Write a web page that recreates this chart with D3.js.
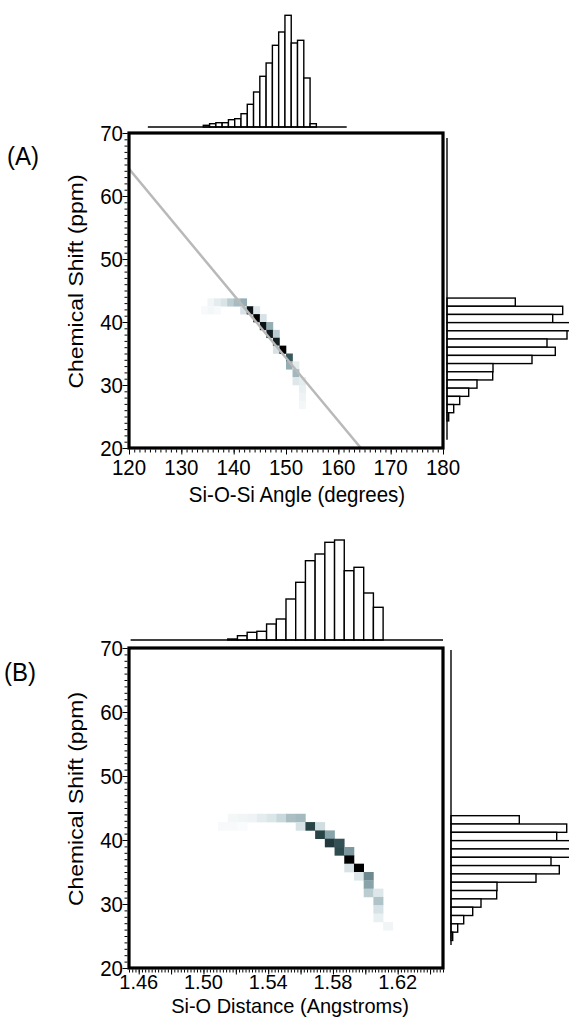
<!DOCTYPE html>
<html>
<head>
<meta charset="utf-8">
<script src="https://cdn.jsdelivr.net/npm/d3@7"></script>
<style>
  body { margin: 0; background: #fff; }
  text { font-family: "Liberation Sans", Arial, Helvetica, sans-serif; fill: #000; }
</style>
</head>
<body>
<svg id="chart" width="569" height="1019"></svg>
<script>
// tick labels
var angleTicks = [120, 130, 140, 150, 160, 170, 180];
var distanceTicks = [1.46, 1.50, 1.54, 1.58, 1.62];
var shiftTicks = [20, 30, 40, 50, 60, 70];

// 2D histogram cells: [x bin start, shift bin start, relative density]
var angleCells = [
  [135, 42.5, .05], [136.25, 42.5, .1], [137.5, 42.5, .14], [138.75, 42.5, .25], [140, 42.5, .33], [141.25, 42.5, .4],
  [133.75, 41.25, .03], [135, 41.25, .04], [136.25, 41.25, .03], [141.25, 41.25, .15], [142.5, 41.25, .95], [143.75, 41.25, .12],
  [143.75, 40, 1], [145, 40, .15],
  [145, 38.75, .95], [146.25, 38.75, .4],
  [146.25, 37.5, .92], [147.5, 37.5, .25],
  [147.5, 36.25, .92],
  [147.5, 35, .15], [148.75, 35, 1],
  [150, 33.75, .75],
  [150, 32.5, .4], [151.25, 32.5, .1],
  [151.25, 31.25, .35],
  [151.25, 30, .12], [152.5, 30, .1],
  [152.5, 28.75, .08],
  [152.5, 27.5, .06],
  [152.5, 26.25, .04]
];
var distanceCells = [
  [1.515, 42.8, .04], [1.521, 42.8, .05], [1.527, 42.8, .06], [1.533, 42.8, .1], [1.539, 42.8, .13], [1.545, 42.8, .2], [1.551, 42.8, .32], [1.557, 42.8, .34],
  [1.509, 41.5, .03], [1.515, 41.5, .03], [1.521, 41.5, .02], [1.557, 41.5, .15], [1.563, 41.5, .82], [1.569, 41.5, .17],
  [1.569, 40.2, .82], [1.575, 40.2, .45],
  [1.575, 38.9, .85], [1.581, 38.9, .78],
  [1.581, 37.6, .8], [1.587, 37.6, .5],
  [1.587, 36.3, 1],
  [1.587, 35.0, .15], [1.593, 35.0, 1],
  [1.593, 33.7, .12], [1.599, 33.7, .55],
  [1.599, 32.4, .45],
  [1.599, 31.1, .25], [1.605, 31.1, .12],
  [1.605, 29.8, .3],
  [1.605, 28.5, .15],
  [1.605, 27.2, .08],
  [1.611, 25.9, .05]
];

// marginal histograms
var angleBins = [134.2, 135.4, 136.6, 137.8, 139.0, 140.2, 141.4, 142.6, 143.8, 145.0, 146.2, 147.4, 148.6, 149.8, 151.0, 152.2, 153.4, 154.6];
var angleCounts = [17, 33, 43, 43, 73, 83, 133, 227, 350, 507, 640, 817, 950, 1117, 840, 867, 490, 33];
var distanceBins = [1.515, 1.521, 1.527, 1.533, 1.539, 1.545, 1.551, 1.557, 1.563, 1.569, 1.575, 1.581, 1.587, 1.593, 1.599, 1.605];
var distanceCounts = [10, 43, 77, 87, 160, 210, 410, 577, 793, 860, 977, 1000, 693, 727, 470, 327];
var shiftBins = [42.5, 41.2, 39.9, 38.6, 37.3, 36.0, 34.7, 33.4, 32.1, 30.8, 29.5, 28.2, 26.9, 25.6, 24.3];
var shiftCounts = [683, 1157, 1057, 1300, 1200, 1000, 1083, 850, 460, 457, 300, 217, 127, 67, 17];

// line drawn through panel A, [angle, shift]
var fitLine = [[120, 64.3], [164.3, 20]];

var svg = d3.select("#chart");
var fontSize = "20.5px";

var color = d3.scaleLinear()
    .domain([0, .15, .45, .8, 1])
    .range(["#ffffff", "#d6e2e5", "#88a3aa", "#2e4b4f", "#000000"]);

// counts -> bar length in px
var countLen = d3.scaleLinear().domain([0, 1000]).range([0, 100]);

function drawPanel(p) {
    var x = d3.scaleLinear().domain(p.xDomain).range([129, 443]);
    var y = d3.scaleLinear().domain([20, 70]).range([p.bottom, p.top]);
    var g = svg.append("g");
    var stretch = 1.1; // glyphs in the figure are a little taller than wide

    var clipId = "clip" + p.letter;
    svg.append("clipPath").attr("id", clipId)
      .append("rect").attr("x", 129).attr("y", p.top).attr("width", 314).attr("height", p.bottom - p.top);

    // heat map
    g.append("g").attr("clip-path", "url(#" + clipId + ")")
      .selectAll("rect")
      .data(p.cells)
      .enter()
      .append("rect")
        .attr("x", function (d) { return x(d[0]); })
        .attr("y", function (d) { return y(d[1] + p.cellH); })
        .attr("width", function (d) { return x(d[0] + p.cellW) - x(d[0]) + 0.3; })
        .attr("height", function (d) { return y(d[1]) - y(d[1] + p.cellH) + 0.3; })
        .attr("fill", function (d) { return color(d[2]); });

    // fitted line
    if (p.line) {
        g.append("line")
            .attr("clip-path", "url(#" + clipId + ")")
            .attr("x1", x(p.line[0][0])).attr("y1", y(p.line[0][1]))
            .attr("x2", x(p.line[1][0])).attr("y2", y(p.line[1][1]))
            .attr("stroke", "#b9b9b9")
            .attr("stroke-width", 2.5);
    }

    // minor + major ticks, outward
    function ticks(axis, vals, size, tx, ty) {
        g.append("g")
            .attr("transform", "translate(" + tx + "," + ty + ")")
            .call(axis.tickValues(vals).tickSize(size).tickFormat(""))
            .call(function (s) { s.select(".domain").remove(); })
            .selectAll("line").attr("stroke", "#000").attr("stroke-width", 1);
    }
    ticks(d3.axisLeft(y), d3.range(20, 70.01, 1), 3, 127.5, 0);
    ticks(d3.axisLeft(y), d3.range(20, 70.01, 10), 5, 127.5, 0);
    ticks(d3.axisBottom(x), p.xMinor, 3, 0, p.bottom + 1.5);
    ticks(d3.axisBottom(x), p.xMajor, 5, 0, p.bottom + 1.5);

    // frame
    g.append("rect")
        .attr("x", 129).attr("y", p.top)
        .attr("width", 314).attr("height", p.bottom - p.top)
        .attr("fill", "none").attr("stroke", "#000").attr("stroke-width", 3.2);

    // top histogram
    var top = g.append("g");
    top.selectAll("rect")
      .data(p.xBins)
      .enter()
      .append("rect")
        .attr("x", function (d) { return x(d); })
        .attr("width", function (d) { return x(d + p.xBinW) - x(d); })
        .attr("y", function (d, i) { return p.histBase - countLen(p.xCounts[i]); })
        .attr("height", function (d, i) { return countLen(p.xCounts[i]); })
        .attr("fill", "#fff").attr("stroke", "#000").attr("stroke-width", 1.4);
    top.append("line")
        .attr("x1", x(p.histSpan[0])).attr("x2", x(p.histSpan[1]))
        .attr("y1", p.histBase).attr("y2", p.histBase)
        .attr("stroke", "#000").attr("stroke-width", 1.4);

    // right histogram
    var side = g.append("g");
    side.selectAll("rect")
      .data(shiftBins)
      .enter()
      .append("rect")
        .attr("x", p.sideX)
        .attr("y", function (d) { return y(d + 1.3); })
        .attr("height", function (d) { return y(d) - y(d + 1.3); })
        .attr("width", function (d, i) { return countLen(shiftCounts[i]); })
        .attr("fill", "#fff").attr("stroke", "#000").attr("stroke-width", 1.4);
    side.append("line")
        .attr("x1", p.sideX).attr("x2", p.sideX)
        .attr("y1", y(p.sideSpan[0])).attr("y2", y(p.sideSpan[1]))
        .attr("stroke", "#000").attr("stroke-width", 1.4);

    // tick labels
    g.selectAll(".ylab")
      .data(shiftTicks)
      .enter()
      .append("text")
        .attr("transform", function (d) { return "translate(123," + y(d) + ") scale(1," + stretch + ")"; })
        .attr("dy", "0.36em")
        .attr("text-anchor", "end")
        .style("font-size", fontSize)
        .text(function (d) { return d; });
    g.selectAll(".xlab")
      .data(p.xTicks)
      .enter()
      .append("text")
        .attr("transform", function (d) { return "translate(" + x(d) + "," + (p.bottom + p.tickGap) + ") scale(1," + p.bottomStretch + ")"; })
        .attr("dy", "0.36em")
        .attr("text-anchor", "middle")
        .style("font-size", p.bottomFont)
        .text(function (d) { return p.fmt(d); });

    // axis titles
    g.append("text")
        .attr("transform", "translate(" + p.titleX + "," + p.titleY + ") scale(1," + p.bottomStretch + ")")
        .attr("text-anchor", "middle")
        .style("font-size", p.bottomFont)
        .text(p.title);
    g.append("text")
        .attr("transform", "translate(83," + ((p.top + p.bottom) / 2 - 9) + ") scale(1," + (stretch + 0.02) + ") rotate(-90)")
        .attr("text-anchor", "middle")
        .style("font-size", fontSize)
        .text("Chemical Shift (ppm)");

    // panel letter
    g.append("text")
        .attr("transform", "translate(" + p.letterX + "," + p.letterY + ") scale(1," + stretch + ")")
        .style("font-size", "24px")
        .text("(" + p.letter + ")");
}

drawPanel({
    letter: "A", letterX: 7, letterY: 165,
    top: 133, bottom: 448,
    xDomain: [120, 180],
    xTicks: angleTicks, fmt: d3.format("d"), tickGap: 19,
    bottomFont: "20.5px", bottomStretch: 1.1,
    xMinor: d3.range(120, 180.01, 1), xMajor: d3.range(120, 180.01, 10),
    cells: angleCells, cellW: 1.25, cellH: 1.25,
    line: fitLine,
    xBins: angleBins, xCounts: angleCounts, xBinW: 1.2,
    histBase: 127, histSpan: [123.6, 161.6],
    sideX: 447, sideSpan: [69.2, 21.3],
    title: "Si-O-Si Angle (degrees)", titleX: 297, titleY: 502
});

drawPanel({
    letter: "B", letterX: 4, letterY: 681,
    top: 648, bottom: 968,
    xDomain: [1.454, 1.648],
    xTicks: distanceTicks, fmt: d3.format(".2f"), tickGap: 14,
    bottomFont: "20px", bottomStretch: 1.02,
    xMinor: d3.range(1.454, 1.6481, 0.002), xMajor: d3.range(1.46, 1.6401, 0.02),
    cells: distanceCells, cellW: 0.006, cellH: 1.3,
    line: null,
    xBins: distanceBins, xCounts: distanceCounts, xBinW: 0.006,
    histBase: 640, histSpan: [1.455, 1.648],
    sideX: 451, sideSpan: [69.7, 23.6],
    title: "Si-O Distance (Angstroms)", titleX: 290, titleY: 1013
});
</script>
</body>
</html>
